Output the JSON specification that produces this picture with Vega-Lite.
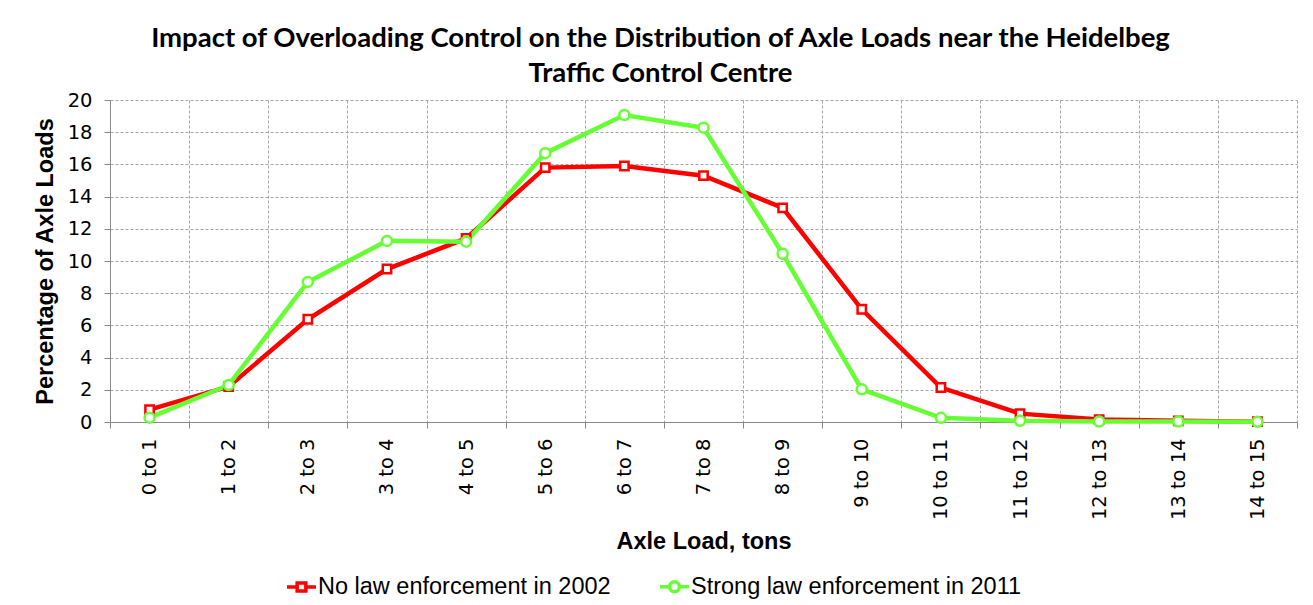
{
  "$schema": "https://vega.github.io/schema/vega-lite/v6.json",
  "width": 1187,
  "height": 322,
  "autosize": {"type": "none"},
  "padding": {"left": 110, "top": 100, "right": 16, "bottom": 183},
  "background": "white",
  "config": {
    "view": {"stroke": null},
    "font": "Liberation Sans"
  },
  "title": {
    "text": ["Impact of Overloading Control on the Distribution of Axle Loads near the Heidelbeg", "Traffic Control Centre"],
    "font": "Lato",
    "fontSize": 27.5,
    "fontWeight": "bold",
    "color": "black",
    "anchor": "middle",
    "dx": -43,
    "lineHeight": 35,
    "offset": 3
  },
  "data": {
    "values": [
      {"load": "0 to 1", "series": "No law enforcement in 2002", "pct": 0.77},
      {"load": "1 to 2", "series": "No law enforcement in 2002", "pct": 2.2},
      {"load": "2 to 3", "series": "No law enforcement in 2002", "pct": 6.38},
      {"load": "3 to 4", "series": "No law enforcement in 2002", "pct": 9.5},
      {"load": "4 to 5", "series": "No law enforcement in 2002", "pct": 11.4},
      {"load": "5 to 6", "series": "No law enforcement in 2002", "pct": 15.8},
      {"load": "6 to 7", "series": "No law enforcement in 2002", "pct": 15.9},
      {"load": "7 to 8", "series": "No law enforcement in 2002", "pct": 15.3},
      {"load": "8 to 9", "series": "No law enforcement in 2002", "pct": 13.3},
      {"load": "9 to 10", "series": "No law enforcement in 2002", "pct": 7.0},
      {"load": "10 to 11", "series": "No law enforcement in 2002", "pct": 2.14},
      {"load": "11 to 12", "series": "No law enforcement in 2002", "pct": 0.52},
      {"load": "12 to 13", "series": "No law enforcement in 2002", "pct": 0.15},
      {"load": "13 to 14", "series": "No law enforcement in 2002", "pct": 0.07},
      {"load": "14 to 15", "series": "No law enforcement in 2002", "pct": 0.02},
      {"load": "0 to 1", "series": "Strong law enforcement in 2011", "pct": 0.27},
      {"load": "1 to 2", "series": "Strong law enforcement in 2011", "pct": 2.3},
      {"load": "2 to 3", "series": "Strong law enforcement in 2011", "pct": 8.7},
      {"load": "3 to 4", "series": "Strong law enforcement in 2011", "pct": 11.25},
      {"load": "4 to 5", "series": "Strong law enforcement in 2011", "pct": 11.2},
      {"load": "5 to 6", "series": "Strong law enforcement in 2011", "pct": 16.7},
      {"load": "6 to 7", "series": "Strong law enforcement in 2011", "pct": 19.07},
      {"load": "7 to 8", "series": "Strong law enforcement in 2011", "pct": 18.28},
      {"load": "8 to 9", "series": "Strong law enforcement in 2011", "pct": 10.45},
      {"load": "9 to 10", "series": "Strong law enforcement in 2011", "pct": 2.03},
      {"load": "10 to 11", "series": "Strong law enforcement in 2011", "pct": 0.26},
      {"load": "11 to 12", "series": "Strong law enforcement in 2011", "pct": 0.07},
      {"load": "12 to 13", "series": "Strong law enforcement in 2011", "pct": 0.03},
      {"load": "13 to 14", "series": "Strong law enforcement in 2011", "pct": 0.03},
      {"load": "14 to 15", "series": "Strong law enforcement in 2011", "pct": 0.01}
    ]
  },
  "encoding": {
    "x": {
      "field": "load",
      "type": "nominal",
      "sort": ["0 to 1", "1 to 2", "2 to 3", "3 to 4", "4 to 5", "5 to 6", "6 to 7", "7 to 8", "8 to 9", "9 to 10", "10 to 11", "11 to 12", "12 to 13", "13 to 14", "14 to 15"],
      "scale": {"type": "band", "paddingInner": 0, "paddingOuter": 0},
      "axis": {
        "title": "Axle Load, tons",
        "titleFont": "Liberation Sans",
        "titleFontSize": 23.5,
        "titleFontWeight": "bold",
        "titleColor": "black",
        "titlePadding": 10,
        "labelAngle": 270,
        "labelFont": "DejaVu Sans",
        "labelFontSize": 19.5,
        "labelColor": "black",
        "labelPadding": 10,
        "tickBand": "extent",
        "tickSize": 6,
        "tickColor": "#888888",
        "domainColor": "#888888",
        "grid": true,
        "gridColor": "#a6a6a6",
        "gridDash": [3, 2]
      }
    },
    "y": {
      "field": "pct",
      "type": "quantitative",
      "scale": {"domain": [0, 20], "nice": false},
      "axis": {
        "title": "Percentage of Axle Loads",
        "titleFont": "Liberation Sans",
        "titleFontSize": 23.5,
        "titleFontWeight": "bold",
        "titleColor": "black",
        "titlePadding": 10,
        "values": [0, 2, 4, 6, 8, 10, 12, 14, 16, 18, 20],
        "labelFont": "DejaVu Sans",
        "labelFontSize": 19.5,
        "labelColor": "black",
        "labelPadding": 12,
        "tickSize": 6,
        "tickColor": "#888888",
        "domainColor": "#888888",
        "grid": true,
        "gridColor": "#a6a6a6",
        "gridDash": [3, 2]
      }
    },
    "color": {
      "field": "series",
      "type": "nominal",
      "scale": {
        "domain": ["No law enforcement in 2002", "Strong law enforcement in 2011"],
        "range": ["#ff0000", "#66ff33"]
      },
      "legend": {
        "title": null,
        "orient": "none",
        "legendX": 175,
        "legendY": 470,
        "direction": "horizontal",
        "labelFontSize": 23.5,
        "labelColor": "black",
        "labelFont": "Liberation Sans",
        "labelLimit": 0,
        "labelOffset": 0,
        "columnPadding": 42,
        "symbolSize": 841,
        "symbolStrokeWidth": 3.5,
        "symbolFillColor": "white",
        "encode": {
          "symbols": {
            "update": {
              "shape": {"signal": "datum.value === 'No law enforcement in 2002' ? 'M-1,0H-0.3M0.3,0H1M-0.3,-0.27H0.3V0.27H-0.3Z' : 'M-1,0H-0.34M0.34,0H1M-0.34,0A0.34,0.34 0 1,0 0.34,0A0.34,0.34 0 1,0 -0.34,0Z'"},
              "fill": {"value": "white"},
              "strokeWidth": {"value": 3.5}
            }
          }
        }
      }
    }
  },
  "layer": [
    {
      "mark": {"type": "line", "strokeWidth": 4.5}
    },
    {
      "transform": [{"filter": "datum.series === 'No law enforcement in 2002'"}],
      "mark": {"type": "point", "shape": "square", "filled": false, "fill": "white", "strokeWidth": 2.5, "size": 70, "opacity": 1}
    },
    {
      "transform": [{"filter": "datum.series === 'Strong law enforcement in 2011'"}],
      "mark": {"type": "point", "shape": "circle", "filled": false, "fill": "white", "strokeWidth": 2.5, "size": 100, "opacity": 1}
    }
  ]
}
